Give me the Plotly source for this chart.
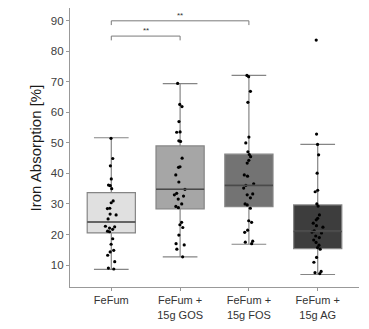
import plotly.graph_objects as go

categories = ["FeFum", "FeFum +<br>15g GOS", "FeFum +<br>15g FOS", "FeFum +<br>15g AG"]

fefum = [51.5, 44.9, 42.5, 38.2, 36.2, 36.0, 35.0, 31.0, 30.4, 28.6, 28.5, 26.7, 26.4, 25.1,
         22.7, 22.5, 22.1, 21.7, 21.1, 20.9, 18.6, 16.8, 14.8, 14.3, 13.2, 11.1, 9.0, 8.7]
gos = [69.5, 62.6, 61.9, 57.0, 53.5, 53.6, 50.5, 50.7, 45.0, 42.2, 42.0, 39.5, 37.2, 34.8,
       33.5, 33.0, 32.6, 31.6, 30.0, 29.2, 28.8, 24.0, 23.2, 22.3, 19.8, 17.0, 16.6, 15.2, 12.7]
fos = [72.1, 71.7, 66.9, 63.3, 51.9, 50.0, 47.1, 46.2, 45.5, 44.3, 43.4, 39.5, 39.1, 36.6,
       36.1, 35.2, 33.3, 33.0, 32.0, 30.0, 29.7, 28.6, 24.5, 24.0, 21.4, 20.7, 17.8, 17.5, 17.0]
ag = [83.7, 52.9, 49.5, 46.1, 40.1, 34.5, 34.0, 30.0, 29.3, 26.4, 25.3, 24.8, 23.7, 22.9,
      22.4, 21.2, 20.8, 20.5, 19.5, 19.0, 18.2, 17.4, 16.5, 15.7, 15.2, 12.5, 10.9, 7.9, 7.5, 7.2]

lower_whisker = [8.6, 12.7, 16.8, 6.9]
q1 = [20.5, 28.4, 29.1, 15.4]
median = [24.1, 34.8, 36.1, 21.0]
q3 = [33.7, 49.0, 46.3, 29.7]
upper_whisker = [51.7, 69.4, 72.1, 49.5]

fills = ["#e0e0e0", "#a6a6a6", "#737373", "#3d3d3d"]

# significance brackets
bracket_from = [1, 1]
bracket_to = [2, 3]
bracket_y = [85.0, 90.0]
bracket_label = ["**", "**"]

groups = [fefum, gos, fos, ag]
xs = [1, 2, 3, 4]

fig = go.Figure()
for i in range(4):
    fig.add_trace(go.Box(
        x=[xs[i]], q1=[q1[i]], median=[median[i]], q3=[q3[i]],
        lowerfence=[lower_whisker[i]], upperfence=[upper_whisker[i]],
        fillcolor=fills[i], line=dict(color="#858585", width=1.2),
        width=0.7, whiskerwidth=0.72, boxpoints=False, showlegend=False,
        hoverinfo="skip"))
    fig.add_trace(go.Scatter(
        x=[xs[i] - 0.35, xs[i] + 0.35], y=[median[i], median[i]], mode="lines",
        line=dict(color="#4a4a4a", width=1.6), showlegend=False, hoverinfo="skip"))

for i in range(4):
    fig.add_trace(go.Box(
        x=[xs[i]] * len(groups[i]), y=groups[i], boxpoints="all", jitter=0.25,
        pointpos=0, width=0.7, fillcolor="rgba(0,0,0,0)",
        line=dict(color="rgba(0,0,0,0)", width=0),
        marker=dict(color="black", size=3.2), showlegend=False, hoverinfo="skip"))

for a, b, h, lab in zip(bracket_from, bracket_to, bracket_y, bracket_label):
    fig.add_trace(go.Scatter(
        x=[a, a, b, b], y=[h - 1.4, h, h, h - 1.4], mode="lines",
        line=dict(color="#7a7a7a", width=1), showlegend=False, hoverinfo="skip"))
    fig.add_annotation(x=(a + b) / 2, y=h, text=lab, showarrow=False,
                       yanchor="bottom", yshift=-1,
                       font=dict(size=8, color="#333333", family="Liberation Sans"))

fig.add_annotation(x=-0.118, xref="paper", y=0.5, yref="paper", text="Iron Absorption [%]",
                   textangle=-90, showarrow=False, xanchor="center", yanchor="middle",
                   font=dict(size=15, color="#1a1a1a", family="Liberation Sans"))

fig.update_layout(
    width=369, height=329,
    margin=dict(l=70, r=10, t=8, b=37),
    plot_bgcolor="white", paper_bgcolor="white",
    boxmode="overlay",
    font=dict(family="Liberation Sans, Arial, sans-serif", size=11, color="#4d4d4d"),
    xaxis=dict(range=[0.4, 4.6], tickmode="array", tickvals=xs, ticktext=categories,
               showline=True, linecolor="#999999", linewidth=1.2, ticks="outside",
               ticklen=3, tickcolor="#999999", showgrid=False, zeroline=False,
               tickfont=dict(size=11, color="#333333")),
    yaxis=dict(range=[2.8, 94.2], tickvals=[10, 20, 30, 40, 50, 60, 70, 80, 90],
               showline=True, linecolor="#999999", linewidth=1.2, ticks="outside",
               ticklen=3, tickcolor="#999999", showgrid=False, zeroline=False,
               tickfont=dict(size=11.5, color="#404040")),
)

fig.write_html("out.html")
